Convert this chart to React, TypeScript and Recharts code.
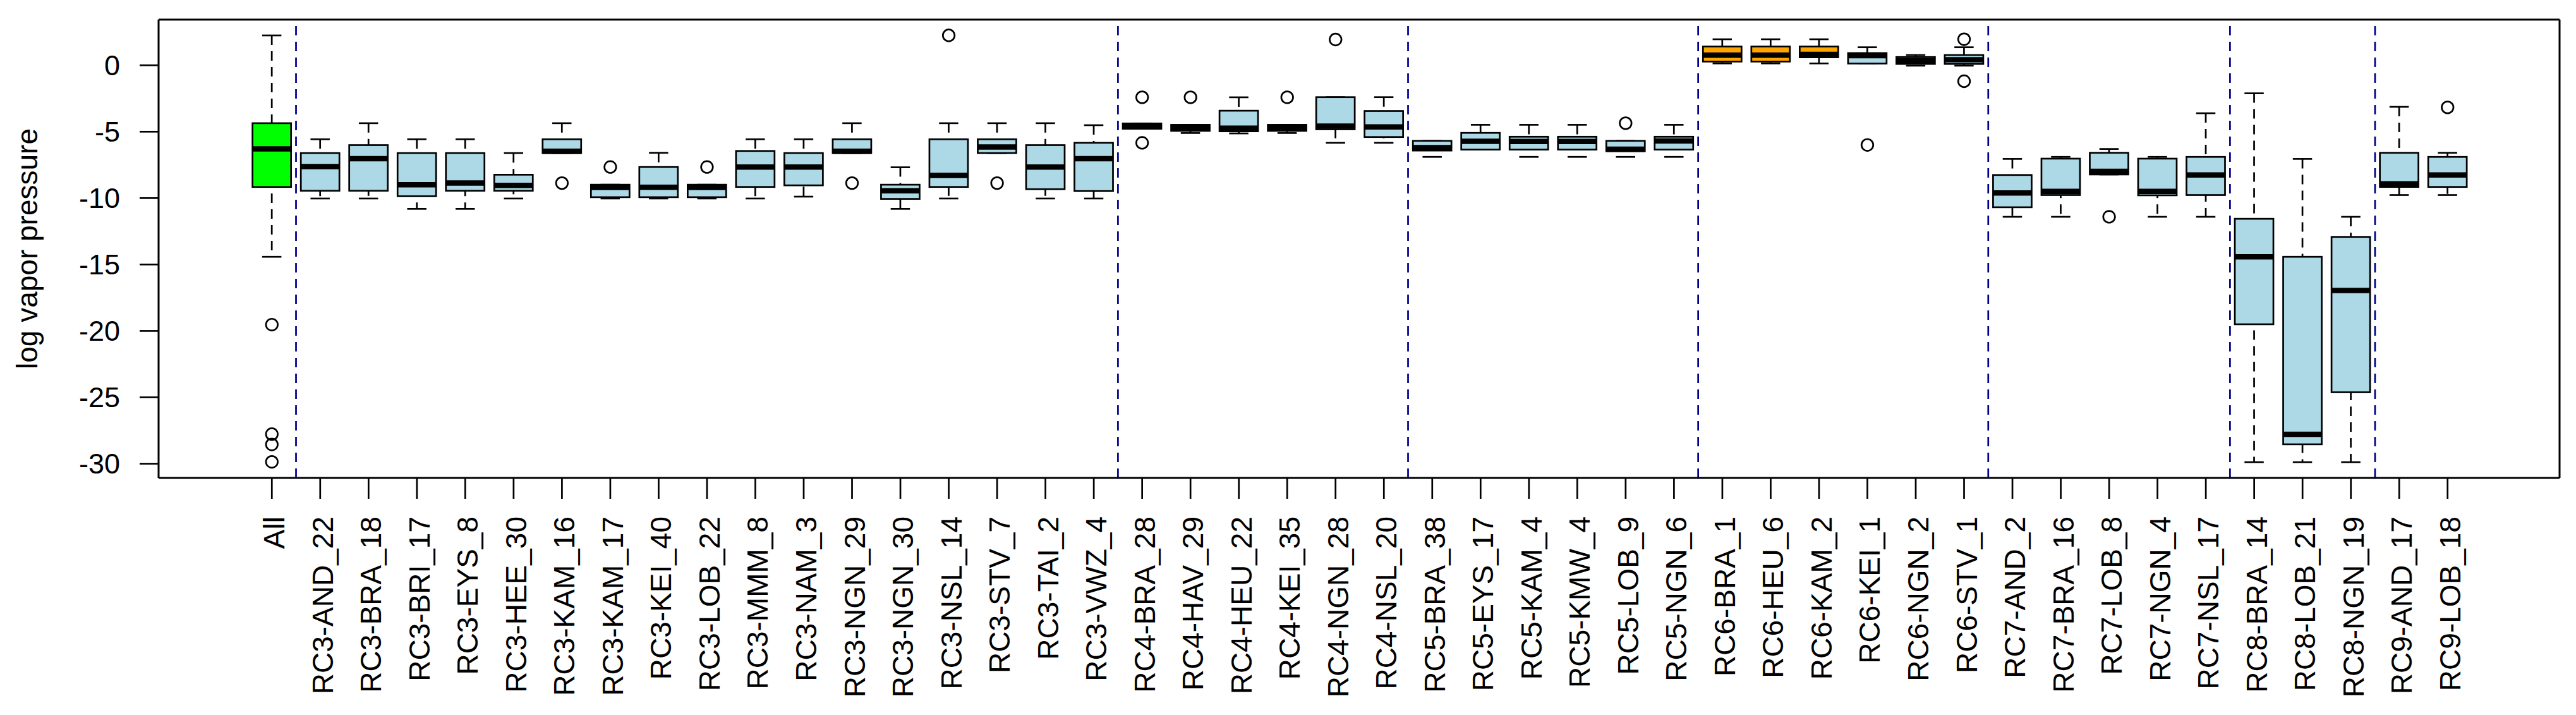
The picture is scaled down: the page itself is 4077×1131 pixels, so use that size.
import React from "react";
import { ComposedChart, Bar, Line, XAxis, YAxis, ReferenceLine } from "recharts";

const categories = [
  "All", "RC3-AND_22", "RC3-BRA_18", "RC3-BRI_17", "RC3-EYS_8", "RC3-HEE_30", "RC3-KAM_16", "RC3-KAM_17",
  "RC3-KEI_40", "RC3-LOB_22", "RC3-MMM_8", "RC3-NAM_3", "RC3-NGN_29", "RC3-NGN_30", "RC3-NSL_14", "RC3-STV_7",
  "RC3-TAI_2", "RC3-VWZ_4", "RC4-BRA_28", "RC4-HAV_29", "RC4-HEU_22", "RC4-KEI_35", "RC4-NGN_28", "RC4-NSL_20",
  "RC5-BRA_38", "RC5-EYS_17", "RC5-KAM_4", "RC5-KMW_4", "RC5-LOB_9", "RC5-NGN_6", "RC6-BRA_1", "RC6-HEU_6",
  "RC6-KAM_2", "RC6-KEI_1", "RC6-NGN_2", "RC6-STV_1", "RC7-AND_2", "RC7-BRA_16", "RC7-LOB_8", "RC7-NGN_4",
  "RC7-NSL_17", "RC8-BRA_14", "RC8-LOB_21", "RC8-NGN_19", "RC9-AND_17", "RC9-LOB_18",
];

const whiskerLow = [
  -14.42, -10.03, -10.03, -10.81, -10.81, -10.03, -6.61, -10.03, -10.03, -10.03, -10.03, -9.89, -6.61, -10.81,
  -10.03, -6.61, -10.03, -10.03, -4.78, -5.1, -5.13, -5.1, -5.84, -5.84, -6.9, -6.35, -6.9, -6.9, -6.9, -6.9,
  0.14, 0.14, 0.14, 0.13, -0.03, -0.03, -11.41, -11.41, -8.22, -11.41, -11.41, -29.88, -29.88, -29.88, -9.77, -9.77,
];

const lowerQuartile = [
  -9.16, -9.45, -9.45, -9.86, -9.45, -9.45, -6.61, -9.93, -9.93, -9.93, -9.16, -9.04, -6.61, -10.06, -9.16,
  -6.61, -9.33, -9.47, -4.78, -4.94, -4.97, -4.94, -4.82, -5.4, -6.42, -6.35, -6.35, -6.35, -6.47, -6.35,
  0.28, 0.28, 0.6, 0.13, 0.1, 0.1, -10.69, -9.77, -8.22, -9.79, -9.77, -19.5, -28.54, -24.62, -9.16, -9.16,
];

const medians = [
  -6.3, -7.63, -7.03, -8.99, -8.87, -9.04, -6.47, -9.2, -9.18, -9.2, -7.66, -7.66, -6.47, -9.45, -8.29, -6.15,
  -7.66, -7.03, -4.55, -4.69, -4.73, -4.69, -4.58, -4.64, -6.2, -5.72, -5.74, -5.74, -6.32, -5.7, 0.76, 0.76,
  0.82, 0.73, 0.36, 0.42, -9.62, -9.5, -7.98, -9.5, -8.26, -14.42, -27.79, -16.96, -8.92, -8.26,
];

const upperQuartile = [
  -4.36, -6.61, -6.01, -6.61, -6.61, -8.24, -5.57, -8.99, -7.66, -8.99, -6.45, -6.61, -5.57, -8.99, -5.57,
  -5.57, -6.01, -5.84, -4.38, -4.48, -3.42, -4.48, -2.4, -3.44, -5.69, -5.09, -5.38, -5.38, -5.69, -5.38,
  1.41, 1.41, 1.41, 0.92, 0.62, 0.77, -8.26, -7.03, -6.59, -7.03, -6.9, -11.56, -14.42, -12.92, -6.59, -6.9,
];

const whiskerHigh = [
  2.25, -5.57, -4.36, -5.57, -5.57, -6.61, -4.36, -8.99, -6.59, -8.99, -5.57, -5.57, -4.36, -7.68, -4.36,
  -4.36, -4.36, -4.51, -4.38, -4.48, -2.41, -4.48, -2.4, -2.4, -5.69, -4.48, -4.48, -4.48, -5.69, -4.48,
  1.96, 1.96, 1.96, 1.36, 0.77, 1.36, -7.05, -6.9, -6.3, -6.9, -3.61, -2.11, -7.05, -11.41, -3.13, -6.59,
];

const outliers: number[][] = [
  [-19.53, -27.77, -28.55, -29.86], [], [], [], [], [], [-8.87], [-7.66],
  [], [-7.66], [], [], [-8.87], [], [2.25], [-8.87],
  [], [], [-2.41, -5.84], [-2.41], [], [-2.41], [1.94], [],
  [], [], [], [], [-4.36], [], [], [],
  [], [-6.0], [], [1.96, -1.2], [], [], [-11.41], [],
  [], [], [], [], [], [-3.17],
];

const yTicks = [-30, -25, -20, -15, -10, -5, 0];
const yDomain = [-31.07, 3.44];
const groupEnds = ["All", "RC3-VWZ_4", "RC4-NSL_20", "RC5-NGN_6", "RC6-STV_1", "RC7-NSL_17", "RC8-NGN_19"];
const greenGroup = ["All"];
const orangeGroup = ["RC6-BRA_1", "RC6-HEU_6", "RC6-KAM_2"];

const FONT = "'Liberation Sans', Arial, Helvetica, sans-serif";
const LW = 2.7;
const DASH = "15 10";
const PAD = { left: 141, right: 139 };

const fillOf = (name: string) =>
  greenGroup.includes(name) ? "#00FF00" : orangeGroup.includes(name) ? "#FFA500" : "#ADD8E6";

const data = categories.map((name, i) => {
  const row: any = {
    name,
    whisk: [whiskerLow[i], whiskerHigh[i]],
    box: [lowerQuartile[i], upperQuartile[i]],
    q1: lowerQuartile[i],
    med: medians[i],
    q3: upperQuartile[i],
  };
  for (let k = 0; k < 4; k++) row["o" + k] = outliers[i][k] ?? null;
  return row;
});

const WhiskerShape = (p: any) => {
  const { x, y, width, height } = p;
  const top = Math.min(y, y + height);
  const bottom = Math.max(y, y + height);
  const cx = x + width / 2;
  const cap = width / 4;
  return (
    <g>
      <line x1={cx} x2={cx} y1={top} y2={bottom} stroke="#000" strokeWidth={LW} strokeDasharray={DASH} />
      <line x1={cx - cap} x2={cx + cap} y1={top} y2={top} stroke="#000" strokeWidth={LW} />
      <line x1={cx - cap} x2={cx + cap} y1={bottom} y2={bottom} stroke="#000" strokeWidth={LW} />
    </g>
  );
};

const BoxShape = (p: any) => {
  const { x, y, width, height, payload } = p;
  const top = Math.min(y, y + height);
  const h = Math.abs(height);
  const span = payload.q3 - payload.q1;
  const my = span > 0 ? top + ((payload.q3 - payload.med) / span) * h : top;
  return (
    <g>
      <rect x={x} y={top} width={width} height={h} fill={fillOf(payload.name)} stroke="#000" strokeWidth={LW} />
      <line x1={x} x2={x + width} y1={my} y2={my} stroke="#000" strokeWidth={8.5} />
    </g>
  );
};

const OutlierDot = (p: any) => {
  const { cx, cy, value, index, dataKey } = p;
  const key = `${dataKey}-${index}`;
  if (value == null || cy == null || Number.isNaN(cy)) return <g key={key} />;
  return <circle key={key} cx={cx} cy={cy} r={9.3} fill="none" stroke="#000" strokeWidth={LW} />;
};

const XTick = (p: any) => {
  const { x, y, payload } = p;
  const bx = x + 20;
  return (
    <text
      x={bx}
      y={y}
      transform={`rotate(-90, ${bx}, ${y})`}
      textAnchor="end"
      fontSize={46}
      fontFamily={FONT}
      fill="#000"
    >
      {payload.value}
    </text>
  );
};

const YLabel = (p: any) => {
  const vb = p.viewBox || { x: 0, y: 30, width: 251, height: 726 };
  const lx = vb.x + 59;
  const ly = vb.y + vb.height / 2;
  return (
    <text
      x={lx}
      y={ly}
      transform={`rotate(-90, ${lx}, ${ly})`}
      textAnchor="middle"
      fontSize={46}
      fontFamily={FONT}
      fill="#000"
    >
      log vapor pressure
    </text>
  );
};

export default function App() {
  return (
    <div style={{ position: "absolute", left: 0, top: 0, width: 4077, height: 1131, background: "#fff" }}>
      <ComposedChart
        width={4077}
        height={1131}
        data={data}
        margin={{ top: 30, right: 25, bottom: 0, left: 0 }}
        barCategoryGap="10%"
      >
        <XAxis
          xAxisId="b"
          dataKey="name"
          type="category"
          interval={0}
          padding={PAD}
          height={375}
          tickSize={33}
          tickMargin={28}
          tick={<XTick />}
          axisLine={{ stroke: "#000", strokeWidth: 3 }}
          tickLine={{ stroke: "#000", strokeWidth: LW }}
        />
        <XAxis
          xAxisId="top"
          orientation="top"
          dataKey="name"
          type="category"
          padding={PAD}
          height={1}
          tick={false}
          tickLine={false}
          axisLine={{ stroke: "#000", strokeWidth: 3 }}
        />
        <YAxis
          type="number"
          domain={yDomain}
          ticks={yTicks}
          allowDataOverflow
          width={251}
          tickSize={30}
          tickMargin={31}
          interval={0}
          tick={{ fontSize: 45, fill: "#000", fontFamily: FONT }}
          axisLine={{ stroke: "#000", strokeWidth: 3 }}
          tickLine={{ stroke: "#000", strokeWidth: LW }}
          label={<YLabel />}
        />
        <YAxis
          yAxisId="r"
          orientation="right"
          type="number"
          domain={yDomain}
          allowDataOverflow
          width={1}
          tick={false}
          tickLine={false}
          axisLine={{ stroke: "#000", strokeWidth: 3 }}
        />
        <Bar xAxisId="top" dataKey="whisk" shape={WhiskerShape} isAnimationActive={false} />
        <Bar xAxisId="b" dataKey="box" shape={BoxShape} isAnimationActive={false} />
        {[0, 1, 2, 3].map((k) => (
          <Line
            key={"o" + k}
            xAxisId="b"
            yAxisId="r"
            dataKey={"o" + k}
            stroke="none"
            dot={OutlierDot}
            activeDot={false}
            isAnimationActive={false}
            connectNulls={false}
          />
        ))}
        {groupEnds.map((name) => (
          <ReferenceLine
            key={name}
            xAxisId="b"
            x={name}
            position="end"
            stroke="#00008B"
            strokeWidth={LW}
            strokeDasharray={DASH}
          />
        ))}
      </ComposedChart>
    </div>
  );
}
